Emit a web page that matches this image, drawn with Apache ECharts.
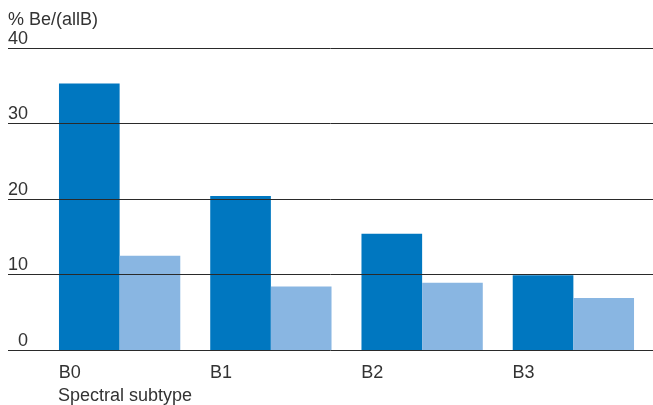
<!DOCTYPE html>
<html>
<head>
<meta charset="utf-8">
<script src="https://cdn.jsdelivr.net/npm/echarts@6/dist/echarts.min.js"></script>
<style>
  html, body { margin: 0; padding: 0; background: #fff; }
  #chart { width: 653px; height: 405px; }
</style>
</head>
<body>
<div id="chart"></div>
<script>
// Share of Be stars among all B stars, by spectral subtype
const categories = ['B0', 'B1', 'B2', 'B3'];
const seriesA = [35.3, 20.4, 15.4, 9.9];
const seriesB = [12.5, 8.4, 8.9, 6.9];
const yTicks = [0, 10, 20, 30, 40];

const FONT = '"Liberation Sans", Arial, sans-serif';
const TEXT = '#333';
const DARK = '#0077c0';
const LIGHT = '#89b6e2';

const chart = echarts.init(document.getElementById('chart'), null, { renderer: 'canvas' });

chart.setOption({
  animation: false,
  backgroundColor: '#fff',
  textStyle: { fontFamily: FONT },
  title: {
    text: 'Spectral subtype',
    left: 58,
    top: 387,
    padding: 0,
    textStyle: { fontFamily: FONT, fontSize: 18, fontWeight: 'normal', color: TEXT }
  },
  grid: [
    // rule lines across the full width
    { left: 8, right: 0, top: 48, bottom: 55, containLabel: false, outerBoundsMode: 'none' },
    // bars
    { left: 44, right: 4, top: 48, bottom: 55, containLabel: false, outerBoundsMode: 'none' }
  ],
  xAxis: [
    { gridIndex: 0, type: 'value', show: false, min: 0, max: 1 },
    {
      gridIndex: 1,
      type: 'category',
      data: categories,
      axisLine: { show: false },
      axisTick: { show: false },
      axisLabel: {
        align: 'left',
        verticalAlign: 'top',
        margin: 14,
        padding: [0, 0, 0, -61],
        fontFamily: FONT,
        fontSize: 18,
        color: TEXT
      }
    }
  ],
  yAxis: [
    {
      gridIndex: 0,
      type: 'value',
      min: yTicks[0],
      max: yTicks[yTicks.length - 1],
      interval: 10,
      z: 10,
      name: '% Be/(allB)',
      nameLocation: 'end',
      nameGap: 19,
      nameTextStyle: { align: 'left', fontFamily: FONT, fontSize: 18, color: TEXT },
      axisLine: { show: false },
      axisTick: { show: false },
      splitLine: { show: true, lineStyle: { color: '#2a2a2a', width: 1 } },
      axisLabel: {
        margin: -20,
        align: 'right',
        verticalAlign: 'bottom',
        fontFamily: FONT,
        fontSize: 18,
        color: TEXT
      }
    },
    {
      gridIndex: 1,
      type: 'value',
      min: 0,
      max: 40,
      interval: 10,
      show: false,
      splitLine: { show: false }
    }
  ],
  series: [
    {
      type: 'bar',
      xAxisIndex: 1,
      yAxisIndex: 1,
      data: seriesA,
      barGap: '0%',
      barCategoryGap: '19.8%',
      itemStyle: { color: DARK },
      z: 2
    },
    {
      type: 'bar',
      xAxisIndex: 1,
      yAxisIndex: 1,
      data: seriesB,
      barGap: '0%',
      barCategoryGap: '19.8%',
      itemStyle: { color: LIGHT },
      z: 2
    }
  ]
});
</script>
</body>
</html>
